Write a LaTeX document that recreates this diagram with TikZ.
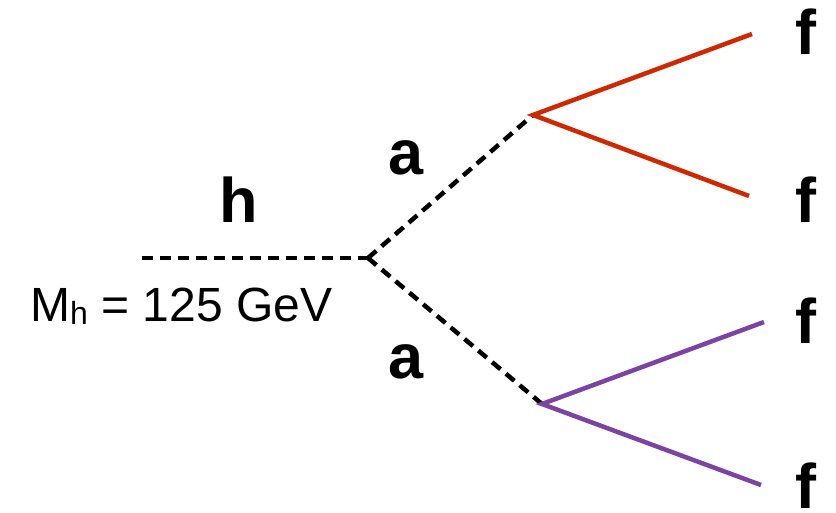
\documentclass[tikz,border=0pt]{standalone}
\usepackage{fontspec}
\setmainfont{Liberation Sans}
\definecolor{fred}{RGB}{204,41,0}
\definecolor{fpurple}{RGB}{122,68,160}
\begin{document}
\begin{tikzpicture}[x=1pt,y=-1pt,
  scalar/.style={line width=4.5pt,dash pattern=on 11pt off 7pt},
  fermionred/.style={line width=4.5pt,color=fred},
  fermionpurple/.style={line width=4.5pt,color=fpurple},
  biglabel/.style={anchor=base,inner sep=0pt,font=\fontsize{63}{70}\selectfont\bfseries},
  masslabel/.style={anchor=base west,inner sep=0pt,font=\fontsize{48}{56}\selectfont}]
\useasboundingbox (0,0) rectangle (836,513);
\coordinate (hin) at (142,258);
\coordinate (v) at (368,258);
\coordinate (a1) at (533,115);
\coordinate (a2) at (542,404);
\coordinate (f1) at (752,34);
\coordinate (f2) at (749,196);
\coordinate (f3) at (764,322);
\coordinate (f4) at (761,485);
\draw[scalar] (hin) -- (v);
\draw[scalar] (v) -- (a1);
\draw[scalar] (v) -- (a2);
\draw[fermionred] (f1) -- (a1) -- (f2);
\draw[fermionpurple] (f3) -- (a2) -- (f4);
\node[biglabel] (lh) at (239,223) {h};
\node[biglabel] (la1) at (406,175) {a};
\node[biglabel] (la2) at (406,378) {a};
\node[biglabel] (lf1) at (806,55) {f};
\node[biglabel] (lf2) at (806,223) {f};
\node[biglabel] (lf3) at (806,343) {f};
\node[biglabel] (lf4) at (806,508) {f};
\node[masslabel] (lm) at (30,322) {M\raisebox{-3pt}{\fontsize{32}{36}\selectfont h} = 125 GeV};
\end{tikzpicture}
\end{document}
